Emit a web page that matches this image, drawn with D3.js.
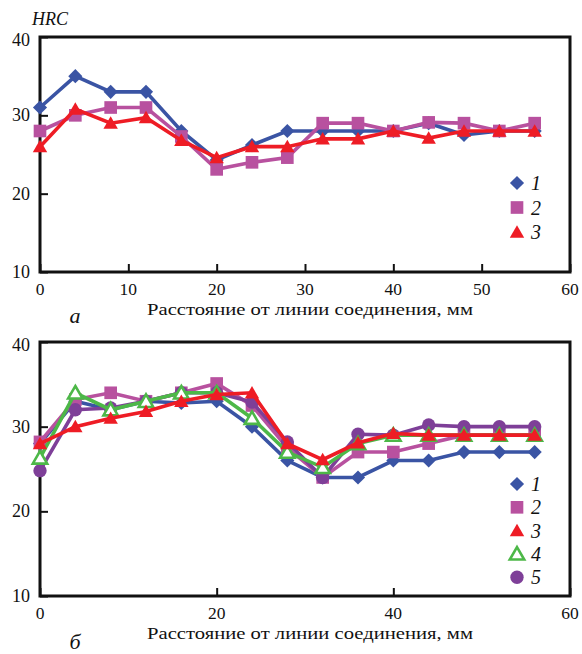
<!DOCTYPE html>
<html>
<head>
<meta charset="utf-8">
<script src="https://cdn.jsdelivr.net/npm/d3@7"></script>
<style>
  body { margin: 0; background: #fff; }
</style>
</head>
<body>
<div id="chart"></div>
<script>
// distance from the joint line, mm
var distance = [0, 4, 8, 12, 16, 20, 24, 28, 32, 36, 40, 44, 48, 52, 56];

// panel a
var a1 = [31, 35, 33, 33, 28, 24.3, 26.2, 28, 28, 28, 28, 29, 27.5, 28, 28];
var a2 = [28, 30, 31, 31, 27.3, 23.1, 24, 24.6, 29, 29, 28, 29.1, 29, 28, 29];
var a3 = [26, 30.8, 29, 29.7, 26.8, 24.6, 26, 26, 27, 27, 28, 27.1, 28, 28, 28];

// panel b
var b1 = [28, 33, 32, 33, 32.8, 33, 30, 26, 24, 24, 26, 26, 27, 27, 27];
var b2 = [28.2, 33.2, 34, 33, 34, 35.1, 32.5, 27.5, 24, 27, 27, 28, 29, 29, 29];
var b3 = [28, 30, 31, 31.8, 33, 33.8, 34, 28, 26.1, 28.1, 29.2, 29, 29, 29, 29];
var b4 = [26.3, 34, 32, 33, 34, 34, 31, 27, 25.2, 28, 29, 29, 29, 29, 29];
var b5 = [24.8, 32, 32.2, 33, 34, 34, 32.9, 28.2, 24, 29.1, 29, 30.2, 30, 30, 30];

var xTicksA = [0, 10, 20, 30, 40, 50, 60];
var xTicksB = [0, 20, 40, 60];
var yTicks = [10, 20, 30, 40];
var seriesLabels = ['1', '2', '3', '4', '5'];
var xTitle = 'Расстояние от линии соединения, мм';

var colors = ['#3a54a4', '#b8519f', '#ee1c25', '#4db848', '#7e3f98'];
var serif = "'Liberation Serif', 'Times New Roman', Tinos, 'Noto Serif', 'DejaVu Serif', serif";

var svg = d3.select('#chart').append('svg').attr('width', 582).attr('height', 654)
    .attr('font-family', serif);

function marker(kind) {
    if (kind == 'diamond') return d3.symbol().type(d3.symbolSquare).size(100);
    if (kind == 'square') return d3.symbol().type(d3.symbolSquare).size(160);
    if (kind == 'circle') return d3.symbol().type(d3.symbolCircle).size(140);
    return d3.symbol().type(d3.symbolTriangle).size(90);
}

var kinds = ['diamond', 'square', 'triangle', 'open', 'circle'];

function drawMarker(g, idx, cx, cy) {
    var k = kinds[idx];
    var p = g.append('path')
        .attr('d', marker(k)())
        .attr('transform', 'translate(' + cx + ',' + (k == 'triangle' || k == 'open' ? cy + 1.5 : cy) + ')' + (k == 'diamond' ? ' rotate(45)' : ''));
    if (k == 'open') {
        p.attr('fill', '#fff').attr('stroke', colors[idx]).attr('stroke-width', 2.6);
    } else {
        p.attr('fill', colors[idx]);
    }
}

function txt(g, x, y, s, size, italic, anchor) {
    return g.append('text').attr('x', x).attr('y', y)
        .attr('font-family', serif)
        .attr('font-size', size)
        .attr('font-style', italic ? 'italic' : 'normal')
        .attr('text-anchor', anchor || 'start')
        .attr('fill', '#111')
        .text(s);
}

function drawPanel(opt) {
    var x = d3.scaleLinear().domain([0, 60]).range([40, 570]);
    var y = d3.scaleLinear().domain([10, 40]).range([opt.bottom, opt.top]);
    var g = svg.append('g');

    // inward ticks
    var xAxis = d3.axisTop(x).tickValues(opt.xTicks).tickSize(8).tickFormat('');
    g.append('g').attr('transform', 'translate(0,' + opt.bottom + ')').call(xAxis)
        .call(s => s.select('.domain').remove())
        .selectAll('line').attr('stroke', '#111').attr('stroke-width', 2);
    var yAxis = d3.axisRight(y).tickValues(yTicks).tickSize(8).tickFormat('');
    g.append('g').attr('transform', 'translate(40,0)').call(yAxis)
        .call(s => s.select('.domain').remove())
        .selectAll('line').attr('stroke', '#111').attr('stroke-width', 2);

    g.append('rect')
        .attr('x', x(0)).attr('y', y(40))
        .attr('width', x(60) - x(0)).attr('height', y(10) - y(40))
        .attr('fill', 'none').attr('stroke', '#111').attr('stroke-width', 3);

    // tick labels
    opt.xTicks.forEach(d => txt(g, x(d), opt.bottom + 23, d, 17.5, false, 'middle'));
    yTicks.forEach(d => txt(g, 30, y(d) + 6 + (d == 40 ? 3 : 0), d, 18, false, 'end'));

    txt(g, 310, opt.bottom + 43, xTitle, 17, false, 'middle')
        .attr('textLength', 326).attr('lengthAdjust', 'spacingAndGlyphs');
    txt(g, 75, opt.bottom + opt.letterOff, opt.letter, 22, true, 'middle');

    var line = d3.line().x((d, i) => x(distance[i])).y(d => y(d));

    opt.order.forEach(function(idx) {
        var vals = opt.series[idx];
        var sg = g.append('g');
        sg.append('path').datum(vals).attr('d', line)
            .attr('fill', 'none').attr('stroke', colors[idx]).attr('stroke-width', 3.6)
            .attr('stroke-linejoin', 'miter');
        vals.forEach(function(v, i) {
            drawMarker(sg, idx, x(distance[i]), y(v));
        });
    });

    // legend
    opt.series.forEach(function(vals, idx) {
        var ly = opt.legendY + idx * opt.legendStep;
        drawMarker(g, idx, 517, ly);
        txt(g, 531, ly + 7, seriesLabels[idx], 20, true);
    });
}

txt(svg, 32, 25, 'HRC', 18, true);

drawPanel({top: 37, bottom: 272, xTicks: xTicksA, series: [a1, a2, a3], order: [0, 1, 2],
    letter: 'а', letterOff: 51, legendY: 183, legendStep: 24.5});
drawPanel({top: 342, bottom: 596, xTicks: xTicksB, series: [b1, b2, b3, b4, b5], order: [0, 1, 4, 3, 2],
    letter: 'б', letterOff: 53, legendY: 484, legendStep: 23.3});
</script>
</body>
</html>
